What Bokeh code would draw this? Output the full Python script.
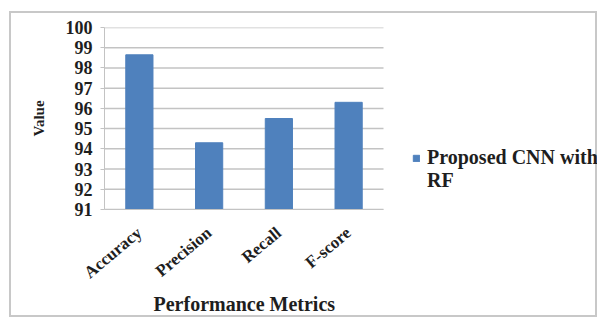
from math import radians

from bokeh.embed import file_html
from bokeh.models import ColumnDataSource, FixedTicker, Legend, LegendItem, Range1d, Title
from bokeh.plotting import figure
from bokeh.resources import INLINE

# Metric names and scores for the proposed model
metrics = ["Accuracy", "Precision", "Recall", "F-score"]
scores = [98.65, 94.3, 95.5, 96.3]
series_lines = ["Proposed CNN with", "RF"]
y_ticks = [91, 92, 93, 94, 95, 96, 97, 98, 99, 100]
x_title = "Performance Metrics"
y_title = "Value"

FONT = "Liberation Serif"
TEXT = "#1e1e1e"
BAR = "#4F81BD"
GRID = "#c3c3c3"

# Plot area covers the bars; the frame continues to the right to host the legend
PLOT_W = 279
FRAME_W = 493
n = len(metrics)
centers = [i + 0.5 for i in range(n)]

source = ColumnDataSource(data=dict(x=centers, metric=metrics, score=scores))

p = figure(
    x_range=Range1d(0, n * FRAME_W / PLOT_W),
    y_range=Range1d(91, 100),
    width=588,
    height=306,
    output_backend="svg",
    toolbar_location=None,
    min_border_left=93,
    min_border_right=2,
    min_border_top=14,
    min_border_bottom=110,
    background_fill_color="white",
    border_fill_color="white",
    outline_line_color=None,
    styles={"border": "2px solid #c8c8c8", "margin-left": "9px", "margin-top": "11px"},
)

# Horizontal value gridlines across the category area only
p.segment(x0=0, x1=n, y0=y_ticks, y1=y_ticks, line_color=GRID, line_width=1.5)

bars = p.vbar(x="x", top="score", bottom=91, width=0.39, source=source,
              fill_color=BAR, line_color=BAR)
# invisible renderer carrying the wrapped second line of the legend label
blank = p.vbar(x=[], top=[], width=0.39, fill_alpha=0, line_alpha=0)

# Axes
p.yaxis.ticker = FixedTicker(ticks=y_ticks)
p.yaxis.axis_label = y_title
p.yaxis.axis_label_text_font = FONT
p.yaxis.axis_label_text_font_style = "bold"
p.yaxis.axis_label_text_font_size = "15px"
p.yaxis.axis_label_text_color = TEXT
p.yaxis.axis_label_standoff = 16
p.yaxis.major_label_text_font = FONT
p.yaxis.major_label_text_font_style = "bold"
p.yaxis.major_label_text_font_size = "18px"
p.yaxis.major_label_text_color = TEXT
p.yaxis.major_label_standoff = 8
p.yaxis.axis_line_color = GRID
p.yaxis.major_tick_line_color = GRID
p.yaxis.major_tick_out = 4
p.yaxis.major_tick_in = 0
p.yaxis.minor_tick_line_color = None

p.xaxis.bounds = (0, n)
p.xaxis.ticker = FixedTicker(ticks=centers)
p.xaxis.major_label_overrides = {c: m for c, m in zip(centers, metrics)}
p.xaxis.major_label_orientation = radians(40)
p.xaxis.major_label_text_font = FONT
p.xaxis.major_label_text_font_style = "bold"
p.xaxis.major_label_text_font_size = "17px"
p.xaxis.major_label_text_color = TEXT
p.xaxis.major_label_standoff = 15
p.xaxis.axis_line_color = GRID
p.xaxis.major_tick_line_color = None
p.xaxis.minor_tick_line_color = None

p.grid.grid_line_color = None

# Category-axis title, centred under the bars rather than the whole frame
p.add_layout(Title(text=x_title, align="left", offset=49, standoff=0,
                   vertical_align="top",
                   text_font=FONT, text_font_style="bold", text_font_size="20px",
                   text_color=TEXT), "below")

# Legend to the right of the bars
legend = Legend(
    items=[LegendItem(label=series_lines[0], renderers=[bars]),
           LegendItem(label=series_lines[1], renderers=[blank])],
    location=(308, 17),
    orientation="vertical",
    padding=0,
    margin=0,
    spacing=0,
    glyph_width=8,
    glyph_height=8,
    label_standoff=7,
    label_height=21,
    border_line_color=None,
    background_fill_alpha=0,
    label_text_font=FONT,
    label_text_font_style="bold",
    label_text_font_size="20px",
    label_text_color=TEXT,
)
p.add_layout(legend, "center")

open("out.html", "w").write(file_html(p, INLINE))
